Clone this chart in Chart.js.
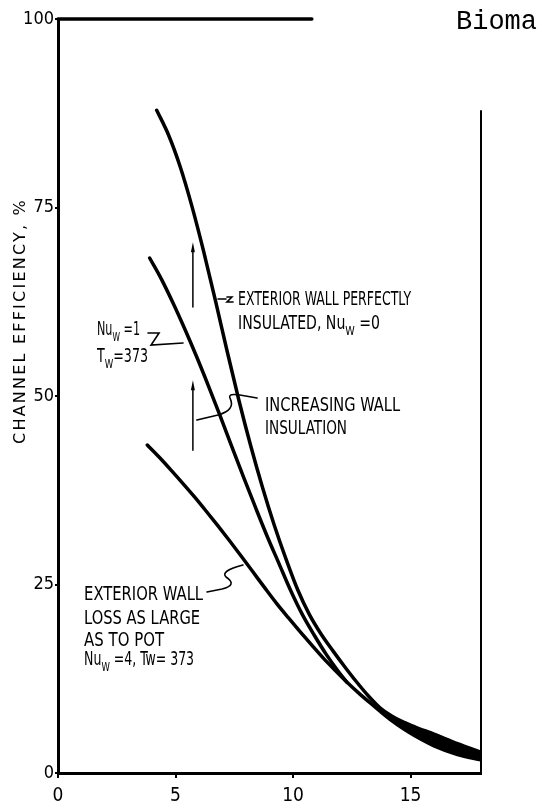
<!DOCTYPE html>
<html>
<head>
<meta charset="utf-8">
<script src="https://cdn.jsdelivr.net/npm/chart.js@4/dist/chart.umd.min.js"></script>
<style>
  html, body { margin: 0; padding: 0; background: #fff; }
  canvas { display: block; }
</style>
</head>
<body>
<canvas id="grafico" width="543" height="806"></canvas>
<script>
// curva superiore: parete esterna perfettamente isolata, Nu_w = 0
const topX = [4.2, 4.7, 5.2, 5.7, 6.2, 6.7, 7.2, 7.7, 8.2, 8.7, 9.2, 9.7, 10.2, 10.7, 11.2, 11.7, 12.2, 12.7, 13.2, 13.7, 14.2, 14.7, 15.2, 16, 17, 18];
const topY = [87.9, 84.65, 80.4, 75.15, 69.15, 62.65, 55.9, 49.4, 43.4, 37.9, 32.9, 28.4, 24.3, 21.0, 18.4, 16.2, 14.1, 12.1, 10.25, 8.65, 7.55, 6.75, 6.1, 5.15, 3.9, 2.75];
// curva intermedia: Nu_w = 1, T_w = 373
const midX = [3.9, 4.4, 4.9, 5.4, 5.9, 6.4, 6.9, 7.4, 7.9, 8.4, 8.9, 9.4, 9.9, 10.4, 10.9, 11.4, 11.9, 12.3];
const midY = [68.3, 65.5, 62.3, 58.85, 55.2, 51.35, 47.35, 43.25, 39.2, 35.25, 31.4, 27.8, 24.2, 21.0, 18.3, 15.8, 13.6, 12.0];
// curva inferiore: perdita come verso il pot, Nu_w = 4
const lowX = [3.8, 4.3, 4.8, 5.3, 5.8, 6.3, 6.8, 7.3, 7.8, 8.3, 8.8, 9.3, 9.8, 10.3, 10.8, 11.3, 11.8, 12.3, 12.8, 13.3, 13.7, 14.2, 14.7, 15.2, 16, 17, 18];
const lowY = [43.5, 41.9, 40.2, 38.45, 36.65, 34.75, 32.8, 30.8, 28.75, 26.65, 24.55, 22.5, 20.6, 18.75, 16.95, 15.2, 13.6, 12.05, 10.6, 9.25, 8.2, 6.95, 5.85, 4.9, 3.6, 2.45, 1.75];

const xTicks = [0, 5, 10, 15];
const yTicks = [0, 25, 50, 75, 100];
const BAND_FROM = 13.7; // da qui le curve formano una banda unica

const FONT = "'DejaVu Sans Condensed', 'DejaVu Sans', sans-serif";

// scritte (x,y = inizio e centro riga, in unita' del grafico; w = larghezza in px)
const ETICHETTE = [
	{testo: 'EXTERIOR WALL PERFECTLY', x: 7.66, y: 63.0, w: 173},
	{testo: 'INSULATED, Nu_W =0', x: 7.66, y: 59.8, w: 142},
	{testo: 'INCREASING WALL', x: 8.81, y: 48.9, w: 135},
	{testo: 'INSULATION', x: 8.81, y: 45.9, w: 82},
	{testo: 'Nu_W =1', x: 1.66, y: 59.0, w: 43},
	{testo: 'T_W=373', x: 1.66, y: 55.4, w: 51},
	{testo: 'EXTERIOR WALL', x: 1.11, y: 23.9, w: 119},
	{testo: 'LOSS AS LARGE', x: 1.11, y: 20.7, w: 116},
	{testo: 'AS TO POT', x: 1.11, y: 17.8, w: 80},
	{testo: 'Nu_W =4, Tw= 373', x: 1.11, y: 15.3, w: 110}
];

// linee di richiamo
const RICHIAMI = [
	[['M', 6.81, 62.87], ['L', 7.15, 62.87], ['M', 7.19, 63.13], ['L', 7.40, 63.13], ['L', 7.19, 62.47], ['L', 7.45, 62.47]],
	[['M', 3.83, 58.36], ['L', 4.30, 58.36], ['L', 3.96, 56.76], ['L', 5.32, 57.03]],
	[['M', 5.91, 46.82], ['L', 6.81, 47.48], ['Q', 7.57, 48.14, 7.32, 49.73], ['Q', 7.23, 50.40, 7.74, 50.13], ['L', 8.47, 49.73]],
	[['M', 6.34, 24.01], ['L', 6.98, 24.40], ['Q', 7.66, 24.93, 7.15, 25.99], ['Q', 6.89, 26.79, 7.87, 27.59]]
];
// frecce verticali: x, y coda, y punta
const FRECCE = [[5.74, 61.8, 70.4], [5.74, 42.8, 52.1]];

function punti(xs, ys){
	return xs.map((x, i) => ({x: x, y: ys[i]}));
}

function scritta(ctx, testo, x, y, w, size){
	// "_W" = pedice
	const parti = [];
	testo.split(/_(\w)/).forEach((t, i) => { if(t) parti.push({t: t, sub: i % 2 === 1}); });
	let tot = 0;
	parti.forEach(p => {
		ctx.font = (p.sub ? size * 0.68 : size) + 'px ' + FONT;
		tot += ctx.measureText(p.t).width;
	});
	ctx.save();
	ctx.translate(x, y + size * 0.365);
	ctx.scale(w / tot, 1);
	ctx.textBaseline = 'alphabetic';
	let cx = 0;
	parti.forEach(p => {
		ctx.font = (p.sub ? size * 0.68 : size) + 'px ' + FONT;
		ctx.fillText(p.t, cx, p.sub ? size * 0.32 : 0);
		cx += ctx.measureText(p.t).width;
	});
	ctx.restore();
}

const disegno = {
	id: 'disegno',
	afterDraw(chart){
		const ctx = chart.ctx;
		const sx = chart.scales.x, sy = chart.scales.y;
		const X = v => sx.getPixelForValue(v);
		const Y = v => sy.getPixelForValue(v);
		ctx.save();
		ctx.strokeStyle = '#000';
		ctx.fillStyle = '#000';
		ctx.lineCap = 'round';

		// cornice parziale in alto e a destra
		ctx.lineWidth = 3.5;
		ctx.beginPath();
		ctx.moveTo(X(0), Y(100));
		ctx.lineTo(X(10.8), Y(100));
		ctx.stroke();
		ctx.lineWidth = 2;
		ctx.beginPath();
		ctx.moveTo(X(18), Y(87.8));
		ctx.lineTo(X(18), Y(0));
		ctx.stroke();

		// richiami
		ctx.lineWidth = 1.6;
		RICHIAMI.forEach(r => {
			ctx.beginPath();
			r.forEach(c => {
				if(c[0] === 'M') ctx.moveTo(X(c[1]), Y(c[2]));
				else if(c[0] === 'L') ctx.lineTo(X(c[1]), Y(c[2]));
				else ctx.quadraticCurveTo(X(c[1]), Y(c[2]), X(c[3]), Y(c[4]));
			});
			ctx.stroke();
		});

		// frecce
		FRECCE.forEach(f => {
			const px = X(f[0]), y0 = Y(f[1]), y1 = Y(f[2]);
			ctx.lineWidth = 1.5;
			ctx.beginPath();
			ctx.moveTo(px, y0);
			ctx.lineTo(px, y1 + 6);
			ctx.stroke();
			ctx.beginPath();
			ctx.moveTo(px, y1);
			ctx.lineTo(px - 2, y1 + 10);
			ctx.lineTo(px + 2, y1 + 10);
			ctx.closePath();
			ctx.fill();
		});

		// scritte
		ETICHETTE.forEach(e => scritta(ctx, e.testo, X(e.x), Y(e.y), e.w, 19));

		// titolo asse y
		ctx.save();
		ctx.translate(21, 321);
		ctx.rotate(-Math.PI / 2);
		ctx.font = '16px ' + FONT;
		ctx.letterSpacing = '2px';
		const titolo = 'CHANNEL EFFICIENCY, %';
		const tw = ctx.measureText(titolo).width;
		ctx.scale(246 / tw, 1);
		ctx.textAlign = 'center';
		ctx.textBaseline = 'middle';
		ctx.fillText(titolo, 0, 0);
		ctx.restore();

		// intestazione pagina
		ctx.font = "27px 'Liberation Mono', monospace";
		ctx.textBaseline = 'alphabetic';
		ctx.fillText('Bioma', 456, 29);
		ctx.restore();
	}
};

const nero = {
	borderColor: '#000',
	borderWidth: 3.5,
	pointRadius: 0,
	fill: false,
	cubicInterpolationMode: 'monotone',
	borderCapStyle: 'round',
	borderJoinStyle: 'round'
};

new Chart(document.getElementById('grafico'), {
	type: 'line',
	data: {
		datasets: [
			Object.assign({label: 'Nu_w = 0', data: punti(topX, topY)}, nero),
			Object.assign({label: 'Nu_w = 1', data: punti(midX, midY)}, nero),
			Object.assign({label: 'Nu_w = 4', data: punti(lowX, lowY)}, nero),
			Object.assign({}, nero, {
				label: 'banda',
				data: punti(lowX, lowY).filter(p => p.x >= BAND_FROM),
				borderWidth: 0,
				fill: 0,
				backgroundColor: '#000'
			})
		]
	},
	options: {
		responsive: false,
		animation: false,
		devicePixelRatio: 1,
		layout: {padding: {top: 19, right: 62, left: 0, bottom: 0}},
		plugins: {legend: {display: false}, tooltip: {enabled: false}},
		scales: {
			x: {
				type: 'linear', min: 0, max: 18,
				afterBuildTicks: s => { s.ticks = xTicks.map(v => ({value: v})); },
				afterFit: s => { s.height = 33; },
				border: {display: true, color: '#000', width: 3},
				grid: {display: true, drawOnChartArea: false, drawTicks: true, tickLength: 5, color: '#000', lineWidth: 2},
				ticks: {color: '#000', padding: 7, maxRotation: 0, font: {family: FONT, size: 19}}
			},
			y: {
				type: 'linear', min: 0, max: 100,
				afterBuildTicks: s => { s.ticks = yTicks.map(v => ({value: v})); },
				afterFit: s => { s.width = 58; },
				border: {display: true, color: '#000', width: 3},
				grid: {display: true, drawOnChartArea: false, drawTicks: true, tickLength: 3, color: '#000', lineWidth: 2},
				ticks: {color: '#000', padding: 1, font: {family: FONT, size: 18}}
			}
		}
	},
	plugins: [disegno]
});
</script>
</body>
</html>
